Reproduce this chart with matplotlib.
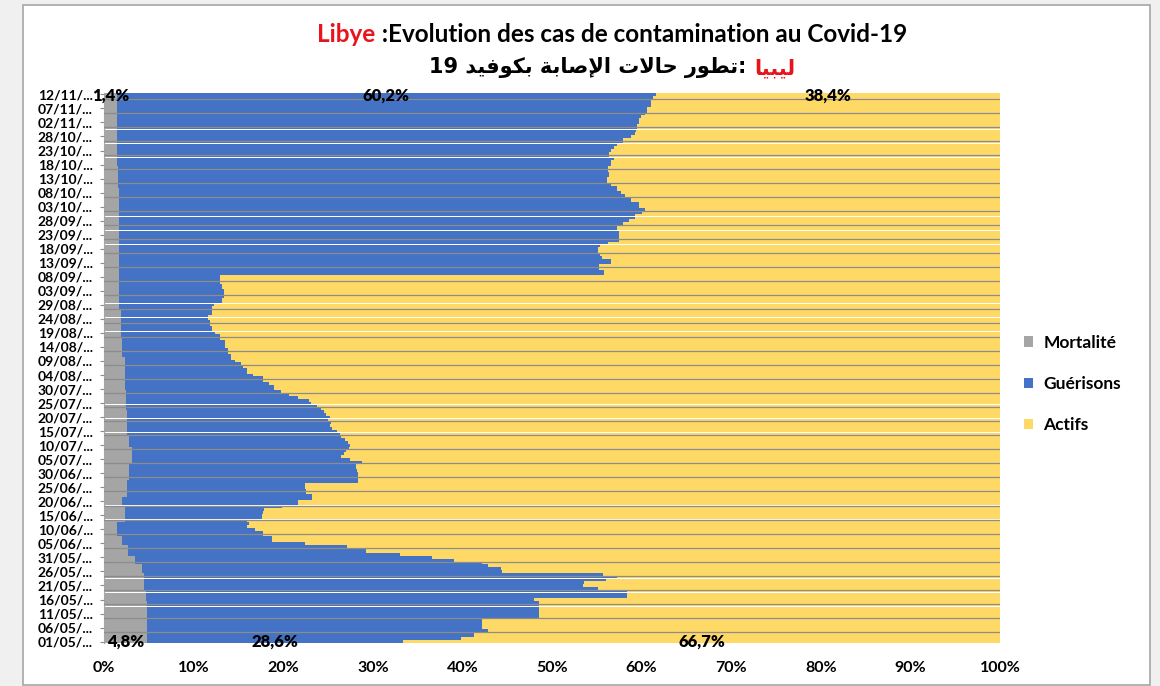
import numpy as np
import pandas as pd
import matplotlib
matplotlib.use('Agg')
import matplotlib.pyplot as plt
from matplotlib.patches import Rectangle, Patch

# categories : un jour par barre, du 01/05 au 12/11
dates = pd.date_range('2020-05-01', '2020-11-12', freq='D')

# parts en %
mortalite = [
    4.8, 4.8, 4.8, 4.8, 4.8, 4.8, 4.8, 4.8, 4.8, 4.8,
    4.8, 4.8, 4.8, 4.8, 4.8, 4.7, 4.7, 4.7, 4.7, 4.5,
    4.5, 4.5, 4.5, 4.5, 4.5, 4.2, 4.2, 4.2, 3.5, 3.5,
    3.5, 2.7, 2.7, 2.7, 2.7, 2.0, 2.0, 2.0, 1.5, 1.5,
    1.5, 1.5, 1.5, 2.3, 2.3, 2.3, 2.3, 2.3, 2.3, 2.0,
    2.0, 2.0, 2.6, 2.6, 2.6, 2.6, 2.6, 2.6, 2.8, 2.8,
    2.8, 2.8, 2.8, 2.8, 3.1, 3.1, 3.1, 3.1, 3.1, 3.1,
    2.8, 2.8, 2.8, 2.8, 2.6, 2.6, 2.6, 2.6, 2.6, 2.6,
    2.6, 2.6, 2.6, 2.4, 2.4, 2.4, 2.4, 2.4, 2.4, 2.4,
    2.3, 2.3, 2.3, 2.3, 2.3, 2.3, 2.3, 2.3, 2.3, 2.3,
    2.3, 2.3, 2.0, 2.0, 2.0, 2.0, 2.0, 2.0, 2.0, 1.9,
    1.9, 1.9, 1.9, 1.9, 1.9, 1.9, 1.9, 1.9, 1.9, 1.7,
    1.7, 1.7, 1.7, 1.7, 1.7, 1.7, 1.7, 1.7, 1.7, 1.7,
    1.7, 1.7, 1.7, 1.7, 1.7, 1.7, 1.7, 1.7, 1.7, 1.7,
    1.7, 1.7, 1.7, 1.7, 1.7, 1.7, 1.7, 1.7, 1.7, 1.7,
    1.7, 1.7, 1.7, 1.7, 1.7, 1.7, 1.7, 1.7, 1.7, 1.7,
    1.7, 1.7, 1.6, 1.6, 1.6, 1.6, 1.6, 1.6, 1.6, 1.6,
    1.4, 1.4, 1.4, 1.4, 1.4, 1.4, 1.4, 1.4, 1.4, 1.4,
    1.4, 1.4, 1.4, 1.4, 1.4, 1.4, 1.4, 1.4, 1.4, 1.4,
    1.4, 1.4, 1.4, 1.4, 1.4, 1.4,
]
guerisons = [
    28.6, 35.0, 36.5, 36.5, 38.1, 37.4, 37.4, 37.4, 37.4, 43.7,
    43.7, 43.7, 43.7, 43.7, 43.7, 43.3, 53.7, 53.7, 53.7, 50.6,
    49.0, 49.1, 51.5, 52.7, 51.2, 40.2, 40.1, 38.7, 38.7, 35.6,
    33.1, 30.3, 26.5, 26.5, 24.4, 20.4, 16.8, 16.8, 16.2, 16.2,
    15.3, 14.5, 14.7, 13.7, 15.3, 15.3, 15.4, 15.6, 17.6, 19.7,
    19.7, 21.2, 20.6, 19.9, 19.9, 19.8, 19.8, 25.7, 25.5, 25.6,
    25.5, 25.4, 25.3, 25.3, 25.7, 24.3, 23.4, 23.7, 23.9, 24.2,
    24.7, 24.4, 24.1, 23.7, 23.7, 23.4, 22.9, 22.6, 22.7, 22.4,
    22.6, 22.2, 21.9, 21.8, 21.4, 20.7, 20.5, 19.2, 18.3, 17.3,
    16.7, 16.7, 16.1, 15.4, 15.4, 14.3, 13.7, 13.7, 13.2, 13.0,
    12.3, 11.9, 12.2, 11.8, 11.8, 11.5, 11.5, 11.5, 11.0, 11.1,
    10.5, 10.2, 10.2, 9.9, 9.9, 9.7, 9.7, 10.2, 10.2, 10.4,
    10.6, 11.5, 11.5, 11.7, 11.7, 11.7, 11.5, 11.5, 11.3, 11.3,
    11.3, 54.1, 54.1, 53.5, 53.6, 54.9, 54.9, 53.9, 53.7, 53.4,
    53.4, 53.7, 54.5, 55.8, 55.8, 55.8, 55.8, 55.6, 55.6, 56.2,
    56.9, 57.6, 57.6, 58.4, 58.7, 58.0, 58.0, 57.1, 57.1, 56.5,
    56.0, 55.5, 55.6, 55.0, 54.5, 54.5, 54.8, 54.8, 54.6, 54.6,
    55.2, 55.2, 55.5, 55.0, 55.0, 55.2, 55.5, 55.9, 56.5, 56.5,
    57.4, 57.9, 58.0, 58.1, 58.1, 58.3, 58.3, 58.5, 59.0, 59.2,
    59.2, 59.6, 59.6, 59.7, 59.9, 60.2,
]
etiq_debut = [4.8, 28.6, 66.7]
etiq_fin = [1.4, 60.2, 38.4]

series = ['Mortalité', 'Guérisons', 'Actifs']
couleurs = ['#A5A5A5', '#4472C4', '#FFD966']

m = np.array(mortalite)
g = np.array(guerisons)
a = 100 - m - g
y = np.arange(len(dates))

W, H = 1160, 686
fig = plt.figure(figsize=(W / 100, H / 100), dpi=100, facecolor='#f0f0f0')
fig.patches.append(Rectangle((23 / W, 1 / H), 1127 / W, 680 / H, transform=fig.transFigure,
                             facecolor='white', edgecolor='#a6a6a6', lw=1.2, zorder=-5))

ax = fig.add_axes([104 / W, 43 / H, 896 / W, 550 / H])
ax.set_facecolor('white')

left = np.zeros(len(y))
for vals, col, lab in zip([m, g, a], couleurs, series):
    ax.barh(y, vals, left=left, height=0.97, color=col, linewidth=0, label=lab)
    left = left + vals

ax.set_xlim(0, 100)
ax.set_ylim(-0.5, len(y) - 0.5)
ax.set_xticks(np.arange(0, 101, 10))
ax.set_xticklabels([f'{v}%' for v in range(0, 101, 10)], fontsize=11.5, fontweight='bold', family='Lato')
ax.tick_params(axis='x', length=0, pad=13)

ax.set_yticks(y[::5])
ax.set_yticklabels([d.strftime('%d/%m/') + '...' for d in dates[::5]],
                   fontsize=10, fontweight='bold', family='Lato')
ax.tick_params(axis='y', length=3, color='#8c8c8c', pad=5)
ax.set_yticks(np.arange(3.5, len(y), 5), minor=True)
ax.tick_params(axis='y', which='minor', length=0)
ax.yaxis.grid(True, which='minor', color='#8c8c8c', lw=0.9)
ax.set_axisbelow(False)

for s in ['top', 'right', 'bottom']:
    ax.spines[s].set_visible(False)
ax.spines['left'].set_color('#a6a6a6')

# étiquettes de la première et de la dernière barre
for idx, etiq, dy in [(0, etiq_debut, 0.0), (len(y) - 1, etiq_fin, -0.6)]:
    parts = [m[idx], g[idx], a[idx]]
    start = 0
    for p, e in zip(parts, etiq):
        ax.text(start + p / 2, y[idx] + dy, f'{e:.1f}%'.replace('.', ','), ha='center', va='center',
                fontsize=12, fontweight='heavy', family='Lato', color='black')
        start += p

handles = [Patch(facecolor=c, edgecolor='none') for c in couleurs]
fig.legend(handles, series, loc='center left', bbox_to_anchor=(1008 / W, 1 - 384 / H),
           frameon=False, prop={'family': 'Lato', 'weight': 'bold', 'size': 12.5},
           handlelength=0.55, handleheight=0.55, handletextpad=0.6, labelspacing=1.45)

# titre sur deux lignes, deux couleurs
renderer = fig.canvas.get_renderer()


def ligne(parts, yc, xc, size, family):
    objs = [fig.text(0, 1 - yc / H, s, color=c, fontsize=size, fontweight='bold',
                     family=family, va='center', ha='left') for s, c in parts]
    widths = [t.get_window_extent(renderer).width for t in objs]
    x = xc - sum(widths) / 2
    for t, w in zip(objs, widths):
        t.set_x(x / W)
        x += w


ligne([('Libye', '#e8141b'), (' :Evolution des cas de contamination au Covid-19', 'black')],
      35, 612, 17.5, 'Lato')

# arabe : formes de présentation, ordre visuel gauche -> droite
ar_noir = ('19 '
           '\uFEAA\uFEF4\uFED3\uFEEE\uFEDC\uFE91 '
           '\uFE94\uFE91\uFE8E\uFEBB\uFEF9\uFE8D '
           '\uFE95\uFEFB\uFE8E\uFEA3 '
           '\uFEAD\uFEEE\uFEC4\uFE97: ')
ar_rouge = '\uFE8E\uFEF4\uFE92\uFEF4\uFEDF'
ligne([(ar_noir, 'black'), (ar_rouge, '#e8141b')], 68, 612, 15, 'DejaVu Sans')

fig.savefig('out.png', dpi=100, facecolor=fig.get_facecolor())
